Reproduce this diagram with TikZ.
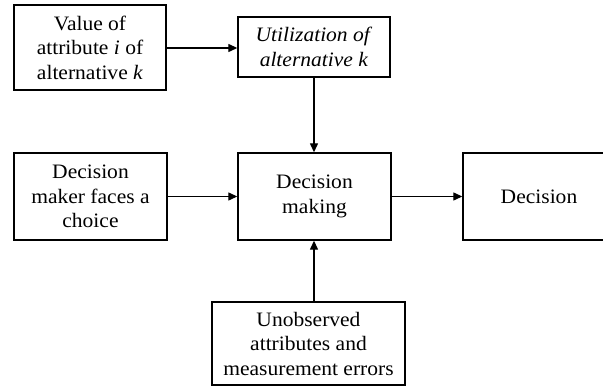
\documentclass[tikz,border=0pt]{standalone}
\usepackage{fontspec}
\setmainfont[FakeStretch=1.05]{Liberation Serif}
\usetikzlibrary{arrows.meta}
\begin{document}
\begin{tikzpicture}[x=1pt,y=-1pt,
  box/.style={draw,line width=1.4pt,rectangle,inner sep=0pt,align=center,
    font=\fontsize{20.5}{24.5}\selectfont},
  flow/.style={line width=1.3pt,-{Triangle[length=9pt,width=8pt]}}]
\useasboundingbox (0,0) rectangle (603,387);
\begin{scope}
\clip (0,0) rectangle (603,387);
% boxes
\node[box,minimum width=152pt,minimum height=85pt] (val) at (90,47.5)
  {Value of\\attribute \textit{i} of\\alternative \textit{k}};
\node[box,minimum width=152pt,minimum height=60pt] (util) at (314,47)
  {\textit{Utilization of}\\\textit{alternative k}};
\node[box,minimum width=153pt,minimum height=87pt] (maker) at (90.5,196.5)
  {Decision\\maker faces a\\choice};
\node[box,minimum width=153pt,minimum height=87pt] (making) at (314.5,196.5)
  {Decision\\making};
\node[box,minimum width=152pt,minimum height=87pt] (dec) at (539,196.5)
  {Decision};
\node[box,minimum width=193pt,minimum height=83pt] (unobs) at (308.5,343.5)
  {Unobserved\\attributes and\\measurement errors};
% connectors
\coordinate (ub) at (314,302);
\draw[flow] (val.east |- 0,48) -- (util.west |- 0,48);
\draw[flow] (util.south -| 314,0) -- (making.north -| 314,0);
\draw[flow] (maker) -- (making);
\draw[flow] (making) -- (dec);
\draw[flow] (ub) -- (making.south -| ub);
\end{scope}
\end{tikzpicture}
\end{document}
